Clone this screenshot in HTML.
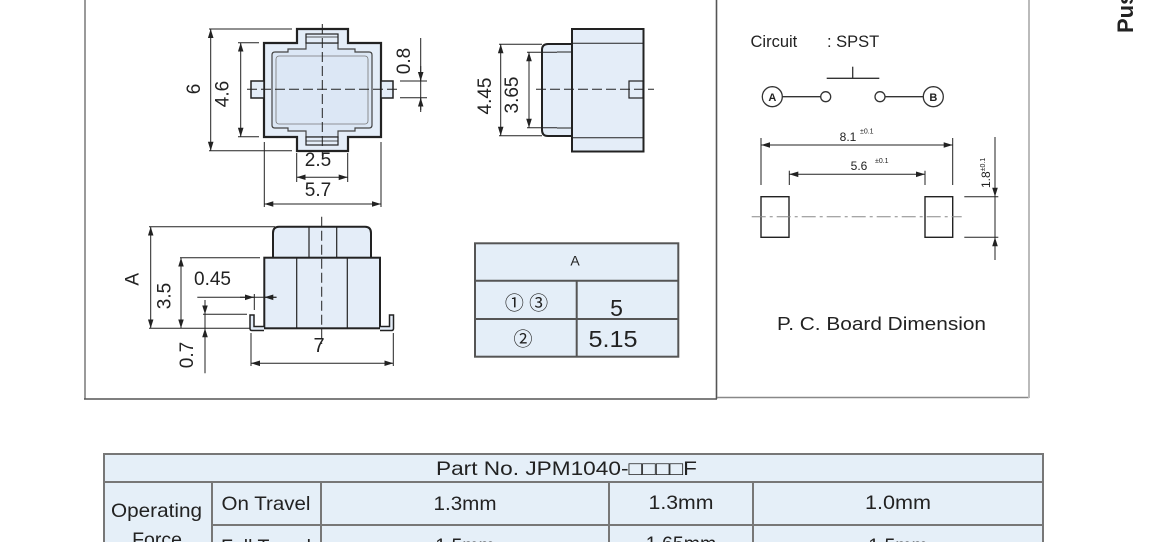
<!DOCTYPE html>
<html><head><meta charset="utf-8"><style>
html,body{margin:0;padding:0;background:#fff;}
svg{display:block;}
text{font-family:"Liberation Sans","Noto Sans CJK JP",sans-serif;fill:#222;}
</style></head><body>
<svg width="1150" height="542" viewBox="0 0 1150 542" xmlns="http://www.w3.org/2000/svg">
<defs>
<marker id="ar" markerWidth="10" markerHeight="8" refX="9" refY="4" orient="auto-start-reverse" markerUnits="userSpaceOnUse"><path d="M0,1.2 L9,4 L0,6.8 z" fill="#222"/></marker>
</defs>

<!-- frames -->
<line x1="85" y1="0" x2="85" y2="399" stroke="#9a9a9a" stroke-width="2"/>
<line x1="84" y1="399" x2="717" y2="399" stroke="#555" stroke-width="1.6"/>
<line x1="716.5" y1="0" x2="716.5" y2="399" stroke="#555" stroke-width="1.6"/>
<line x1="717" y1="397.5" x2="1029" y2="397.5" stroke="#888" stroke-width="1.6"/>
<line x1="1029" y1="0" x2="1029" y2="398" stroke="#bbb" stroke-width="2"/>

<!-- ===== top-left view ===== -->
<g stroke="#222" fill="none">
<polygon points="264,43 297,43 297,29 348,29 348,43 381,43 381,137 348,137 348,151 297,151 297,137 264,137" fill="#e4edf8" stroke-width="2.2"/>
<rect x="251" y="81" width="13" height="17" fill="#e4edf8" stroke-width="1.5"/>
<rect x="381" y="81" width="12" height="17" fill="#e4edf8" stroke-width="1.5"/>
<path d="M272,55 Q272,52 275,52 L288,52 L288,49 L306,49 L306,43 L338,43 L338,49 L355,49 L355,52 L369,52 Q372,52 372,55 L372,125 Q372,128 369,128 L355,128 L355,131 L338,131 L338,137 L306,137 L306,131 L288,131 L288,128 L275,128 Q272,128 272,125 Z" fill="#dce7f5" stroke="#444" stroke-width="1.2"/>
<rect x="276" y="56" width="92" height="68" rx="3" stroke="#777" stroke-width="0.8"/>
<rect x="306" y="34" width="32" height="9" fill="#e4edf8" stroke-width="1.2"/>
<line x1="306" y1="37" x2="338" y2="37" stroke-width="0.8"/>
<rect x="306" y="137" width="32" height="8" fill="#e4edf8" stroke-width="1.2"/>
<line x1="306" y1="141" x2="338" y2="141" stroke-width="0.8"/>
<line x1="247" y1="89.3" x2="397" y2="89.3" stroke-width="1" stroke-dasharray="10 4"/>
<line x1="322.3" y1="24" x2="322.3" y2="156" stroke-width="1" stroke-dasharray="10 4"/>
<!-- dim 6 -->
<line x1="209" y1="29" x2="292" y2="29" stroke-width="1"/>
<line x1="209" y1="150.7" x2="292" y2="150.7" stroke-width="1"/>
<line x1="210.7" y1="29" x2="210.7" y2="150.7" stroke-width="1" marker-start="url(#ar)" marker-end="url(#ar)"/>
<!-- dim 4.6 -->
<line x1="238" y1="42.7" x2="259" y2="42.7" stroke-width="1"/>
<line x1="238" y1="136.7" x2="259" y2="136.7" stroke-width="1"/>
<line x1="240.7" y1="42.7" x2="240.7" y2="136.7" stroke-width="1" marker-start="url(#ar)" marker-end="url(#ar)"/>
<!-- dim 0.8 -->
<line x1="400" y1="81" x2="427" y2="81" stroke-width="1"/>
<line x1="400" y1="97.7" x2="427" y2="97.7" stroke-width="1"/>
<line x1="420.7" y1="38" x2="420.7" y2="110" stroke-width="1"/>
<line x1="420.7" y1="66" x2="420.7" y2="81" stroke-width="1" marker-end="url(#ar)"/>
<line x1="420.7" y1="112" x2="420.7" y2="97.7" stroke-width="1" marker-end="url(#ar)"/>
<!-- dim 2.5 -->
<line x1="296.7" y1="153" x2="296.7" y2="182" stroke-width="1"/>
<line x1="347.7" y1="153" x2="347.7" y2="182" stroke-width="1"/>
<line x1="296.7" y1="177.3" x2="347.7" y2="177.3" stroke-width="1" marker-start="url(#ar)" marker-end="url(#ar)"/>
<!-- dim 5.7 -->
<line x1="264.3" y1="142" x2="264.3" y2="207" stroke-width="1"/>
<line x1="381" y1="142" x2="381" y2="207" stroke-width="1"/>
<line x1="264.3" y1="204" x2="381" y2="204" stroke-width="1" marker-start="url(#ar)" marker-end="url(#ar)"/>
</g>
<g font-size="19">
<text transform="translate(193,89) rotate(-90)" text-anchor="middle" dy="7">6</text>
<text transform="translate(221.5,94) rotate(-90)" text-anchor="middle" dy="7">4.6</text>
<text transform="translate(403,61) rotate(-90)" text-anchor="middle" dy="7">0.8</text>
<text x="318" y="166" text-anchor="middle">2.5</text>
<text x="318" y="196" text-anchor="middle">5.7</text>
</g>

<!-- ===== top-middle view ===== -->
<g stroke="#222" fill="none">
<path d="M572,44 L548,44 Q542,44 542,50 L542,130 Q542,136 548,136 L572,136" fill="#e4edf8" stroke-width="2"/>
<line x1="557" y1="52" x2="572" y2="52" stroke-width="1"/>
<line x1="557" y1="128" x2="572" y2="128" stroke-width="1"/>
<rect x="572" y="29" width="71.5" height="122.5" fill="#e4edf8" stroke-width="2"/>
<line x1="572" y1="43.3" x2="643" y2="43.3" stroke-width="1"/>
<line x1="572" y1="137.7" x2="643" y2="137.7" stroke-width="1"/>
<rect x="629" y="81" width="14" height="17" stroke-width="1.2"/>
<line x1="536" y1="89.3" x2="654" y2="89.3" stroke-width="1" stroke-dasharray="10 4"/>
<!-- 4.45 -->
<line x1="499" y1="44.3" x2="542" y2="44.3" stroke-width="1"/>
<line x1="499" y1="135.7" x2="542" y2="135.7" stroke-width="1"/>
<line x1="500.7" y1="44.3" x2="500.7" y2="135.7" stroke-width="1" marker-start="url(#ar)" marker-end="url(#ar)"/>
<!-- 3.65 -->
<line x1="527" y1="52.3" x2="557" y2="52.3" stroke-width="1"/>
<line x1="527" y1="127.7" x2="557" y2="127.7" stroke-width="1"/>
<line x1="529" y1="52.3" x2="529" y2="127.7" stroke-width="1" marker-start="url(#ar)" marker-end="url(#ar)"/>
</g>
<g font-size="19">
<text transform="translate(484,96) rotate(-90)" text-anchor="middle" dy="7">4.45</text>
<text transform="translate(511,95) rotate(-90)" text-anchor="middle" dy="7">3.65</text>
</g>

<!-- ===== bottom-left view ===== -->
<g stroke="#222" fill="none">
<path d="M273,257.7 L273,233 Q273,226.7 279,226.7 L365,226.7 Q371,226.7 371,233 L371,257.7" fill="#e4edf8" stroke-width="2"/>
<line x1="309" y1="226.7" x2="309" y2="257.7" stroke-width="1.2"/>
<line x1="336.7" y1="226.7" x2="336.7" y2="257.7" stroke-width="1.2"/>
<rect x="264.3" y="257.7" width="115.7" height="70.6" fill="#e4edf8" stroke-width="2"/>
<line x1="296.7" y1="257.7" x2="296.7" y2="328.3" stroke-width="1.2"/>
<line x1="347.3" y1="257.7" x2="347.3" y2="328.3" stroke-width="1.2"/>
<path d="M264,330.5 L252,330.5 Q250,330.5 250,328.5 L250,315 L254,315 L254,326.5 L264,326.5" fill="#e4edf8" stroke-width="1.5"/>
<path d="M380,330.5 L391.5,330.5 Q393.5,330.5 393.5,328.5 L393.5,315 L389.5,315 L389.5,326.5 L380,326.5" fill="#e4edf8" stroke-width="1.5"/>
<line x1="321.7" y1="216.7" x2="321.7" y2="344" stroke-width="1" stroke-dasharray="10 4"/>
<!-- A -->
<line x1="149" y1="226.7" x2="275" y2="226.7" stroke-width="1"/>
<line x1="149" y1="328.3" x2="250" y2="328.3" stroke-width="1"/>
<line x1="150.7" y1="226.7" x2="150.7" y2="328.3" stroke-width="1" marker-start="url(#ar)" marker-end="url(#ar)"/>
<!-- 3.5 -->
<line x1="180" y1="257.7" x2="260" y2="257.7" stroke-width="1"/>
<line x1="181" y1="257.7" x2="181" y2="328.3" stroke-width="1" marker-start="url(#ar)" marker-end="url(#ar)"/>
<!-- 0.45 -->
<line x1="197.3" y1="297.3" x2="276.7" y2="297.3" stroke-width="1"/>
<line x1="240" y1="297.3" x2="254" y2="297.3" stroke-width="1" marker-end="url(#ar)"/>
<line x1="276" y1="297.3" x2="264.3" y2="297.3" stroke-width="1" marker-end="url(#ar)"/>
<line x1="254.3" y1="294" x2="254.3" y2="310" stroke-width="1"/>
<!-- 0.7 -->
<line x1="203" y1="314.3" x2="247" y2="314.3" stroke-width="1"/>
<line x1="205" y1="301.7" x2="205" y2="373.3" stroke-width="1"/>
<line x1="205" y1="300" x2="205" y2="314.3" stroke-width="1" marker-end="url(#ar)"/>
<line x1="205" y1="342" x2="205" y2="328.3" stroke-width="1" marker-end="url(#ar)"/>
<!-- 7 -->
<line x1="251" y1="333" x2="251" y2="366" stroke-width="1"/>
<line x1="393.3" y1="333" x2="393.3" y2="366" stroke-width="1"/>
<line x1="251" y1="363.3" x2="393.3" y2="363.3" stroke-width="1" marker-start="url(#ar)" marker-end="url(#ar)"/>
</g>
<g font-size="19">
<text transform="translate(131.7,279.3) rotate(-90)" text-anchor="middle" dy="7">A</text>
<text transform="translate(163.3,296) rotate(-90)" text-anchor="middle" dy="7">3.5</text>
<text x="194" y="285">0.45</text>
<text transform="translate(186,355) rotate(-90)" text-anchor="middle" dy="7">0.7</text>
<text x="319" y="352" text-anchor="middle" font-size="20">7</text>
</g>

<!-- ===== table A ===== -->
<g stroke="#555" stroke-width="2" fill="#e4eef8">
<rect x="475" y="243.3" width="203.3" height="113.4"/>
<line x1="475" y1="280.7" x2="678.3" y2="280.7"/>
<line x1="475" y1="319" x2="678.3" y2="319"/>
<line x1="576.7" y1="280.7" x2="576.7" y2="356.7"/>
</g>
<text x="575" y="265.5" text-anchor="middle" font-size="14">A</text>
<text x="526.5" y="309.5" text-anchor="middle" font-size="19">① ③</text>
<text x="523" y="345.5" text-anchor="middle" font-size="19">②</text>
<text x="616.5" y="316" text-anchor="middle" font-size="23">5</text>
<text x="613" y="347" text-anchor="middle" font-size="23" textLength="49" lengthAdjust="spacingAndGlyphs">5.15</text>

<!-- ===== right panel ===== -->
<text x="750.5" y="47" font-size="16.5">Circuit</text>
<text x="827" y="47" font-size="16.5">: SPST</text>
<g stroke="#333" fill="none" stroke-width="1.3">
<line x1="826.7" y1="78.3" x2="879.3" y2="78.3"/>
<line x1="852.7" y1="66.7" x2="852.7" y2="78.3"/>
<circle cx="772.3" cy="96.7" r="10" fill="#fff"/>
<line x1="782.3" y1="96.7" x2="820.7" y2="96.7"/>
<circle cx="825.7" cy="96.7" r="5" fill="#fff"/>
<circle cx="880" cy="96.7" r="5" fill="#fff"/>
<line x1="885" y1="96.7" x2="923.3" y2="96.7"/>
<circle cx="933.3" cy="96.7" r="10" fill="#fff"/>
</g>
<text x="772.3" y="100.8" text-anchor="middle" font-size="11" font-weight="bold">A</text>
<text x="933.3" y="100.8" text-anchor="middle" font-size="11" font-weight="bold">B</text>

<g stroke="#222" fill="none" stroke-width="1">
<line x1="761" y1="138" x2="761" y2="185"/>
<line x1="952.7" y1="138" x2="952.7" y2="185"/>
<line x1="761" y1="145" x2="952.7" y2="145" marker-start="url(#ar)" marker-end="url(#ar)"/>
<line x1="789.3" y1="170.7" x2="789.3" y2="185"/>
<line x1="925" y1="170.7" x2="925" y2="185"/>
<line x1="789.3" y1="174.3" x2="925" y2="174.3" marker-start="url(#ar)" marker-end="url(#ar)"/>
<rect x="761" y="196.7" width="28" height="40.6" stroke-width="1.4"/>
<rect x="925" y="196.7" width="27.7" height="40.6" stroke-width="1.4"/>
<line x1="751.7" y1="216.7" x2="961.7" y2="216.7" stroke="#888" stroke-dasharray="14 4 3 4"/>
<line x1="964.3" y1="196.7" x2="998.3" y2="196.7"/>
<line x1="964.3" y1="237.3" x2="998.3" y2="237.3"/>
<line x1="995" y1="137" x2="995" y2="260"/>
<line x1="995" y1="182" x2="995" y2="196.7" marker-end="url(#ar)"/>
<line x1="995" y1="252" x2="995" y2="237.3" marker-end="url(#ar)"/>
</g>
<text x="848" y="141" text-anchor="middle" font-size="12">8.1</text>
<text x="860" y="133.5" font-size="7">±0.1</text>
<text x="859" y="170" text-anchor="middle" font-size="12">5.6</text>
<text x="875" y="163" font-size="7">±0.1</text>
<text transform="translate(990,188) rotate(-90)" font-size="12">1.8<tspan font-size="7" dy="-5">±0.1</tspan></text>
<text x="777" y="330" font-size="18.5" textLength="209" lengthAdjust="spacingAndGlyphs">P. C. Board Dimension</text>

<!-- far right rotated title -->
<text transform="translate(1133,33) rotate(-90)" font-size="22" font-weight="bold" fill="#000">Push Switch</text>

<!-- ===== bottom table ===== -->
<g stroke="#777" stroke-width="2" fill="#e5eff8">
<rect x="104" y="454" width="939" height="100"/>
<line x1="104" y1="482" x2="1043" y2="482"/>
<line x1="212" y1="525" x2="1043" y2="525"/>
<line x1="212" y1="482" x2="212" y2="554"/>
<line x1="321" y1="482" x2="321" y2="554"/>
<line x1="609" y1="482" x2="609" y2="554"/>
<line x1="753" y1="482" x2="753" y2="554"/>
</g>
<g font-size="19.5">
<text x="436" y="475" textLength="261" lengthAdjust="spacingAndGlyphs">Part No. JPM1040-□□□□F</text>
<text x="156.5" y="517" text-anchor="middle" textLength="91" lengthAdjust="spacingAndGlyphs">Operating</text>
<text x="157" y="546" text-anchor="middle">Force</text>
<text x="266" y="510" text-anchor="middle" textLength="89" lengthAdjust="spacingAndGlyphs">On Travel</text>
<text x="465" y="510" text-anchor="middle" textLength="63" lengthAdjust="spacingAndGlyphs">1.3mm</text>
<text x="681" y="509" text-anchor="middle" textLength="65" lengthAdjust="spacingAndGlyphs">1.3mm</text>
<text x="898" y="509" text-anchor="middle" textLength="66" lengthAdjust="spacingAndGlyphs">1.0mm</text>
<text x="266" y="553" text-anchor="middle">Full Travel</text>
<text x="465" y="552" text-anchor="middle">1.5mm</text>
<text x="681" y="550" text-anchor="middle">1.65mm</text>
<text x="898" y="552" text-anchor="middle">1.5mm</text>
</g>
</svg>
</body></html>
